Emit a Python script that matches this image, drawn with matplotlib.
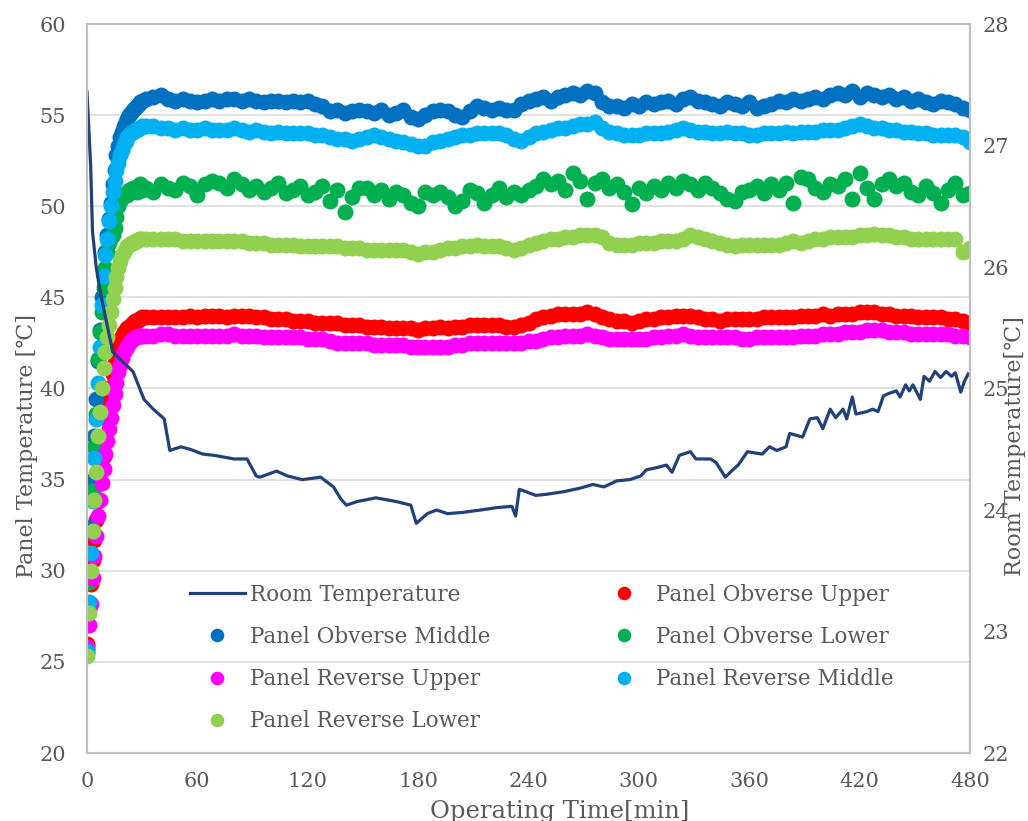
import numpy as np
import matplotlib.pyplot as plt

# sampling: every minute during warm-up, every 4 min afterwards
time_min = list(range(0, 31)) + list(range(32, 481, 4))

obverse_upper = [26.0, 27.9, 29.3, 30.6, 31.7, 32.8, 33.8, 34.8, 35.6, 36.3,
                 37.3, 38.3, 39.3, 40.1, 40.8, 41.4, 41.9, 42.3, 42.6, 42.9,
                 43.1, 43.2, 43.3, 43.4, 43.5, 43.6, 43.7, 43.7, 43.8, 43.8, 43.9,
                 43.9, 43.9, 43.9, 43.9, 43.9, 43.9, 44.0, 43.9, 44.0, 44.0,
                 44.0, 43.9, 44.0, 44.0, 44.0, 43.9, 43.9, 43.8, 43.8, 43.8,
                 43.7, 43.7, 43.7, 43.6, 43.6, 43.6, 43.6, 43.5, 43.5, 43.5,
                 43.4, 43.4, 43.4, 43.3, 43.3, 43.3, 43.3, 43.2, 43.3, 43.3,
                 43.4, 43.3, 43.4, 43.4, 43.5, 43.5, 43.5, 43.5, 43.5, 43.4,
                 43.4, 43.5, 43.6, 43.8, 43.9, 44.0, 44.1, 44.1, 44.1, 44.1,
                 44.2, 44.1, 43.9, 43.8, 43.7, 43.7, 43.6, 43.7, 43.8, 43.8,
                 43.9, 43.9, 44.0, 44.0, 44.0, 43.9, 43.8, 43.8, 43.7, 43.8,
                 43.8, 43.8, 43.8, 43.8, 43.9, 43.9, 43.9, 43.9, 43.9, 44.0,
                 44.0, 44.0, 44.1, 44.0, 44.1, 44.1, 44.1, 44.2, 44.2, 44.2,
                 44.1, 44.1, 44.0, 44.0, 44.0, 43.9, 43.9, 43.9, 43.9, 43.8,
                 43.8, 43.7, 43.6]

obverse_middle = [25.7, 29.6, 32.4, 35.0, 37.4, 39.4, 41.5, 43.2, 45.0, 46.3,
                  47.5, 48.4, 49.3, 50.2, 51.2, 52.0, 52.8, 53.3, 53.8, 54.1,
                  54.4, 54.6, 54.8, 55.0, 55.1, 55.3, 55.4, 55.5, 55.6, 55.7, 55.8,
                  55.9, 56.0, 56.1, 55.9, 55.8, 55.9, 55.8, 55.7, 55.8, 55.9,
                  55.8, 55.9, 55.9, 55.8, 55.9, 55.8, 55.7, 55.8, 55.8, 55.7,
                  55.8, 55.7, 55.8, 55.6, 55.5, 55.2, 55.3, 55.1, 55.2, 55.3,
                  55.2, 55.1, 55.3, 55.0, 55.1, 55.3, 54.9, 54.8, 55.0, 55.2,
                  55.3, 55.2, 55.0, 54.9, 55.2, 55.5, 55.4, 55.3, 55.4, 55.3,
                  55.3, 55.6, 55.8, 55.9, 56.0, 55.8, 56.0, 56.1, 56.2, 56.1,
                  56.3, 56.2, 55.7, 55.5, 55.5, 55.4, 55.6, 55.5, 55.7, 55.6,
                  55.7, 55.8, 55.6, 55.9, 56.0, 55.8, 55.7, 55.6, 55.5, 55.7,
                  55.6, 55.5, 55.7, 55.4, 55.5, 55.6, 55.8, 55.7, 55.9, 55.8,
                  55.9, 56.0, 55.9, 56.1, 56.2, 56.1, 56.3, 56.0, 56.2, 56.1,
                  56.0, 56.1, 55.9, 56.0, 55.8, 55.9, 55.7, 55.6, 55.8, 55.7,
                  55.6, 55.4, 55.3]

obverse_lower = [25.5, 29.4, 32.1, 34.4, 36.8, 38.6, 41.6, 43.1, 44.2, 45.5,
                 46.6, 47.5, 48.0, 48.3, 48.4, 48.8, 49.4, 50.0, 50.3, 50.5,
                 50.6, 50.7, 50.6, 50.9, 50.8, 51.0, 51.0, 50.8, 51.1, 51.2, 50.9,
                 51.0, 50.8, 51.2, 51.0, 50.9, 51.3, 51.1, 50.6, 51.2, 51.4,
                 51.3, 51.0, 51.5, 51.2, 50.9, 51.1, 50.8, 51.0, 51.3, 50.7,
                 50.9, 51.1, 50.6, 50.8, 51.1, 50.3, 50.9, 49.7, 50.5, 51.0,
                 51.0, 50.6, 50.9, 50.4, 50.8, 50.6, 50.2, 50.0, 50.8, 50.6,
                 50.8, 50.5, 50.0, 50.3, 50.9, 50.7, 50.2, 50.6, 51.0, 50.5,
                 50.8, 50.6, 50.9, 51.1, 51.5, 51.2, 51.4, 50.9, 51.8, 51.4,
                 50.4, 51.3, 51.5, 51.0, 51.2, 50.8, 50.1, 51.0, 50.7, 51.1,
                 50.9, 51.3, 51.0, 51.4, 51.2, 50.9, 51.3, 51.0, 50.7, 50.4,
                 50.3, 50.8, 50.9, 51.1, 50.7, 51.2, 50.9, 51.3, 50.2, 51.6,
                 51.5, 51.0, 50.8, 51.2, 51.1, 51.5, 50.4, 51.8, 51.0, 50.4,
                 51.2, 51.5, 51.1, 51.3, 50.8, 50.6, 51.1, 50.7, 50.2, 50.9,
                 51.3, 50.6, 50.7]

reverse_upper = [25.8, 27.0, 28.2, 29.6, 30.8, 31.9, 33.0, 33.9, 34.8, 35.6,
                 36.4, 37.1, 37.8, 38.4, 39.1, 39.7, 40.3, 40.9, 41.3, 41.7,
                 42.0, 42.2, 42.3, 42.5, 42.6, 42.7, 42.8, 42.8, 42.9, 42.9, 42.9,
                 42.9, 42.9, 43.0, 43.0, 42.9, 42.9, 42.9, 42.9, 42.9, 42.9,
                 42.9, 42.9, 43.0, 42.9, 42.9, 42.9, 42.8, 42.8, 42.8, 42.8,
                 42.8, 42.8, 42.7, 42.7, 42.7, 42.6, 42.5, 42.5, 42.5, 42.5,
                 42.5, 42.4, 42.4, 42.4, 42.4, 42.4, 42.3, 42.3, 42.3, 42.3,
                 42.3, 42.3, 42.4, 42.4, 42.5, 42.5, 42.5, 42.5, 42.5, 42.5,
                 42.5, 42.5, 42.6, 42.6, 42.7, 42.8, 42.8, 42.9, 42.9, 42.9,
                 43.0, 42.9, 42.8, 42.7, 42.7, 42.7, 42.7, 42.7, 42.7, 42.8,
                 42.8, 42.9, 42.9, 43.0, 42.9, 42.8, 42.8, 42.8, 42.8, 42.8,
                 42.8, 42.7, 42.7, 42.8, 42.8, 42.8, 42.8, 42.8, 42.8, 42.9,
                 42.9, 42.9, 43.0, 43.0, 43.0, 43.1, 43.1, 43.1, 43.2, 43.2,
                 43.2, 43.1, 43.1, 43.1, 43.0, 43.0, 43.0, 43.0, 43.0, 43.0,
                 42.9, 42.9, 42.8]

reverse_middle = [25.6, 28.3, 31.0, 33.8, 36.2, 38.3, 40.3, 42.3, 44.6, 46.2,
                  47.3, 48.2, 49.2, 50.0, 50.8, 51.4, 52.0, 52.4, 52.8, 53.1,
                  53.4, 53.6, 53.8, 53.9, 54.0, 54.1, 54.2, 54.2, 54.3, 54.3, 54.4,
                  54.4, 54.4, 54.3, 54.3, 54.2, 54.3, 54.2, 54.2, 54.3, 54.2,
                  54.2, 54.2, 54.3, 54.2, 54.1, 54.2, 54.1, 54.0, 54.1, 54.0,
                  54.0, 54.0, 54.0, 53.9, 53.9, 53.8, 53.7, 53.7, 53.6, 53.7,
                  53.8, 53.9, 53.8, 53.7, 53.6, 53.5, 53.4, 53.3, 53.3, 53.5,
                  53.6, 53.7, 53.8, 53.9, 53.9, 54.0, 54.0, 54.0, 54.0, 53.9,
                  53.7, 53.6, 53.8, 54.0, 54.1, 54.2, 54.3, 54.3, 54.4, 54.5,
                  54.5, 54.6, 54.3, 54.1, 54.0, 53.9, 53.9, 53.9, 54.0, 54.0,
                  54.0, 54.1, 54.2, 54.3, 54.2, 54.1, 54.1, 54.0, 54.0, 54.1,
                  54.0, 54.0, 53.9, 53.9, 54.0, 54.0, 54.0, 54.1, 54.0, 54.1,
                  54.1, 54.1, 54.2, 54.2, 54.2, 54.3, 54.4, 54.5, 54.4, 54.3,
                  54.3, 54.2, 54.2, 54.1, 54.1, 54.0, 54.0, 53.9, 53.9, 53.9,
                  53.9, 53.8, 53.5]

reverse_lower = [25.3, 27.7, 30.0, 32.2, 33.9, 35.4, 37.4, 38.7, 40.0, 41.1,
                 42.0, 42.8, 43.5, 44.2, 44.9, 45.5, 46.1, 46.6, 47.0, 47.3,
                 47.5, 47.7, 47.8, 47.9, 48.0, 48.0, 48.1, 48.1, 48.2, 48.2, 48.2,
                 48.2, 48.2, 48.2, 48.2, 48.2, 48.1, 48.1, 48.1, 48.1, 48.1,
                 48.1, 48.1, 48.1, 48.1, 48.0, 48.0, 48.0, 47.9, 47.9, 47.9,
                 47.9, 47.8, 47.8, 47.8, 47.8, 47.8, 47.8, 47.7, 47.7, 47.7,
                 47.6, 47.6, 47.6, 47.6, 47.6, 47.6, 47.5, 47.4, 47.5, 47.5,
                 47.6, 47.7, 47.7, 47.8, 47.8, 47.9, 47.8, 47.8, 47.8, 47.7,
                 47.6, 47.7, 47.9, 48.0, 48.1, 48.2, 48.2, 48.3, 48.3, 48.4,
                 48.4, 48.4, 48.3, 48.0, 47.9, 47.9, 47.9, 48.0, 48.0, 48.0,
                 48.1, 48.1, 48.1, 48.2, 48.4, 48.3, 48.2, 48.1, 48.0, 47.9,
                 47.8, 47.9, 47.9, 47.9, 47.9, 47.9, 47.9, 48.0, 48.1, 48.0,
                 48.1, 48.2, 48.2, 48.3, 48.3, 48.3, 48.3, 48.4, 48.4, 48.5,
                 48.4, 48.4, 48.3, 48.3, 48.2, 48.2, 48.2, 48.2, 48.2, 48.2,
                 48.2, 47.5, 47.7]

# room temperature, read at its turning points
room_time = [0, 2, 3, 5, 7, 14, 25, 31, 36, 42, 45, 51, 56, 63, 69, 80, 87,
             92, 94, 103, 109, 117, 127, 134, 138, 141, 147, 157, 168, 176,
             179, 185, 190, 196, 204, 214, 223, 231, 233, 235, 237, 244, 250,
             259, 268, 275, 281, 288, 295, 301, 304, 310, 315, 318, 322, 328,
             331, 339, 342, 347, 351, 354, 359, 367, 371, 375, 380, 382, 389,
             393, 397, 400, 404, 407, 411, 413, 416, 418, 424, 427, 430, 433,
             436, 440, 442, 445, 447, 449, 453, 455, 458, 461, 464, 467, 470,
             472, 475, 477, 479]
room_temp = [27.44, 26.83, 26.29, 26.0, 25.81, 25.3, 25.14, 24.91, 24.83,
             24.75, 24.49, 24.52, 24.5, 24.46, 24.45, 24.42, 24.42, 24.28,
             24.27, 24.32, 24.28, 24.25, 24.27, 24.19, 24.09, 24.04, 24.07,
             24.1, 24.07, 24.04, 23.89, 23.97, 24.0, 23.97, 23.98, 24.0, 24.02,
             24.03, 23.95, 24.17, 24.16, 24.12, 24.13, 24.15, 24.18, 24.21,
             24.19, 24.24, 24.25, 24.28, 24.33, 24.35, 24.37, 24.31, 24.45,
             24.48, 24.42, 24.42, 24.39, 24.27, 24.33, 24.37, 24.48, 24.46,
             24.52, 24.49, 24.52, 24.63, 24.6, 24.75, 24.76, 24.67, 24.83,
             24.76, 24.83, 24.75, 24.93, 24.79, 24.81, 24.83, 24.81, 24.94,
             24.96, 24.98, 24.93, 25.03, 24.98, 25.03, 24.91, 25.1, 25.06,
             25.14, 25.09, 25.14, 25.1, 25.13, 24.97, 25.06, 25.12]

series = [
    ('Panel Obverse Upper', obverse_upper, '#FF0000'),
    ('Panel Obverse Middle', obverse_middle, '#0070C0'),
    ('Panel Obverse Lower', obverse_lower, '#00B050'),
    ('Panel Reverse Upper', reverse_upper, '#FF00FF'),
    ('Panel Reverse Middle', reverse_middle, '#00B0F0'),
    ('Panel Reverse Lower', reverse_lower, '#92D050'),
]

fonts = ['DejaVu Serif', 'DejaVu Sans']
plt.rcParams['font.family'] = fonts
txt = '#595959'

fig = plt.figure(figsize=(10.28, 8.21), dpi=100)
ax = fig.add_axes([87/1028, 1-753/821, 883/1028, 729/821])
ax2 = ax.twinx()

handles = {}
for name, vals, col in series:
    h, = ax.plot(time_min, vals, 'o', ms=11.5, mec='none', color=col, label=name)
    handles[name] = h
h, = ax2.plot(room_time, room_temp, '-', lw=2.3, color='#22407A', label='Room Temperature')
handles['Room Temperature'] = h

ax.set_xlim(0, 480)
ax.set_ylim(20, 60)
ax2.set_ylim(22, 28)
ax.set_xticks(range(0, 481, 60))
ax.set_yticks(range(20, 61, 5))
ax2.set_yticks(range(22, 29))
ax.grid(axis='y', color='#D9D9D9', lw=1.1)
ax.set_axisbelow(True)

for a in (ax, ax2):
    for s in a.spines.values():
        s.set_color('#BFBFBF')
        s.set_linewidth(1.5)
    a.tick_params(length=0, labelsize=15, labelcolor=txt)
ax.tick_params(axis='y', pad=15)
ax.tick_params(axis='x', pad=14)
ax2.tick_params(axis='y', pad=9)

fig.text(27/1028, 1-446/821, 'Panel Temperature [℃]', rotation=90, ha='center',
         va='center', fontsize=16, color=txt)
fig.text(1015/1028, 1-446/821, 'Room Temperature[℃]', rotation=90, ha='center',
         va='center', fontsize=16, color=txt)
fig.text(560/1028, 1-800/821, 'Operating Time[min]', ha='center', va='top',
         fontsize=17.5, color=txt)

order = ['Room Temperature', 'Panel Obverse Middle', 'Panel Reverse Upper',
         'Panel Reverse Lower', 'Panel Obverse Upper', 'Panel Obverse Lower',
         'Panel Reverse Middle']
leg = ax2.legend([handles[k] for k in order], order, ncol=2, frameon=False,
                 loc='upper left', bbox_to_anchor=(190/1028, 1-584/821),
                 bbox_transform=fig.transFigure, fontsize=15.5, borderpad=0,
                 handlelength=2.55, handletextpad=0.25, columnspacing=4.9,
                 labelspacing=0.93, borderaxespad=0, markerscale=0.85)
for t in leg.get_texts():
    t.set_color(txt)

fig.savefig('out.png', dpi=100)
